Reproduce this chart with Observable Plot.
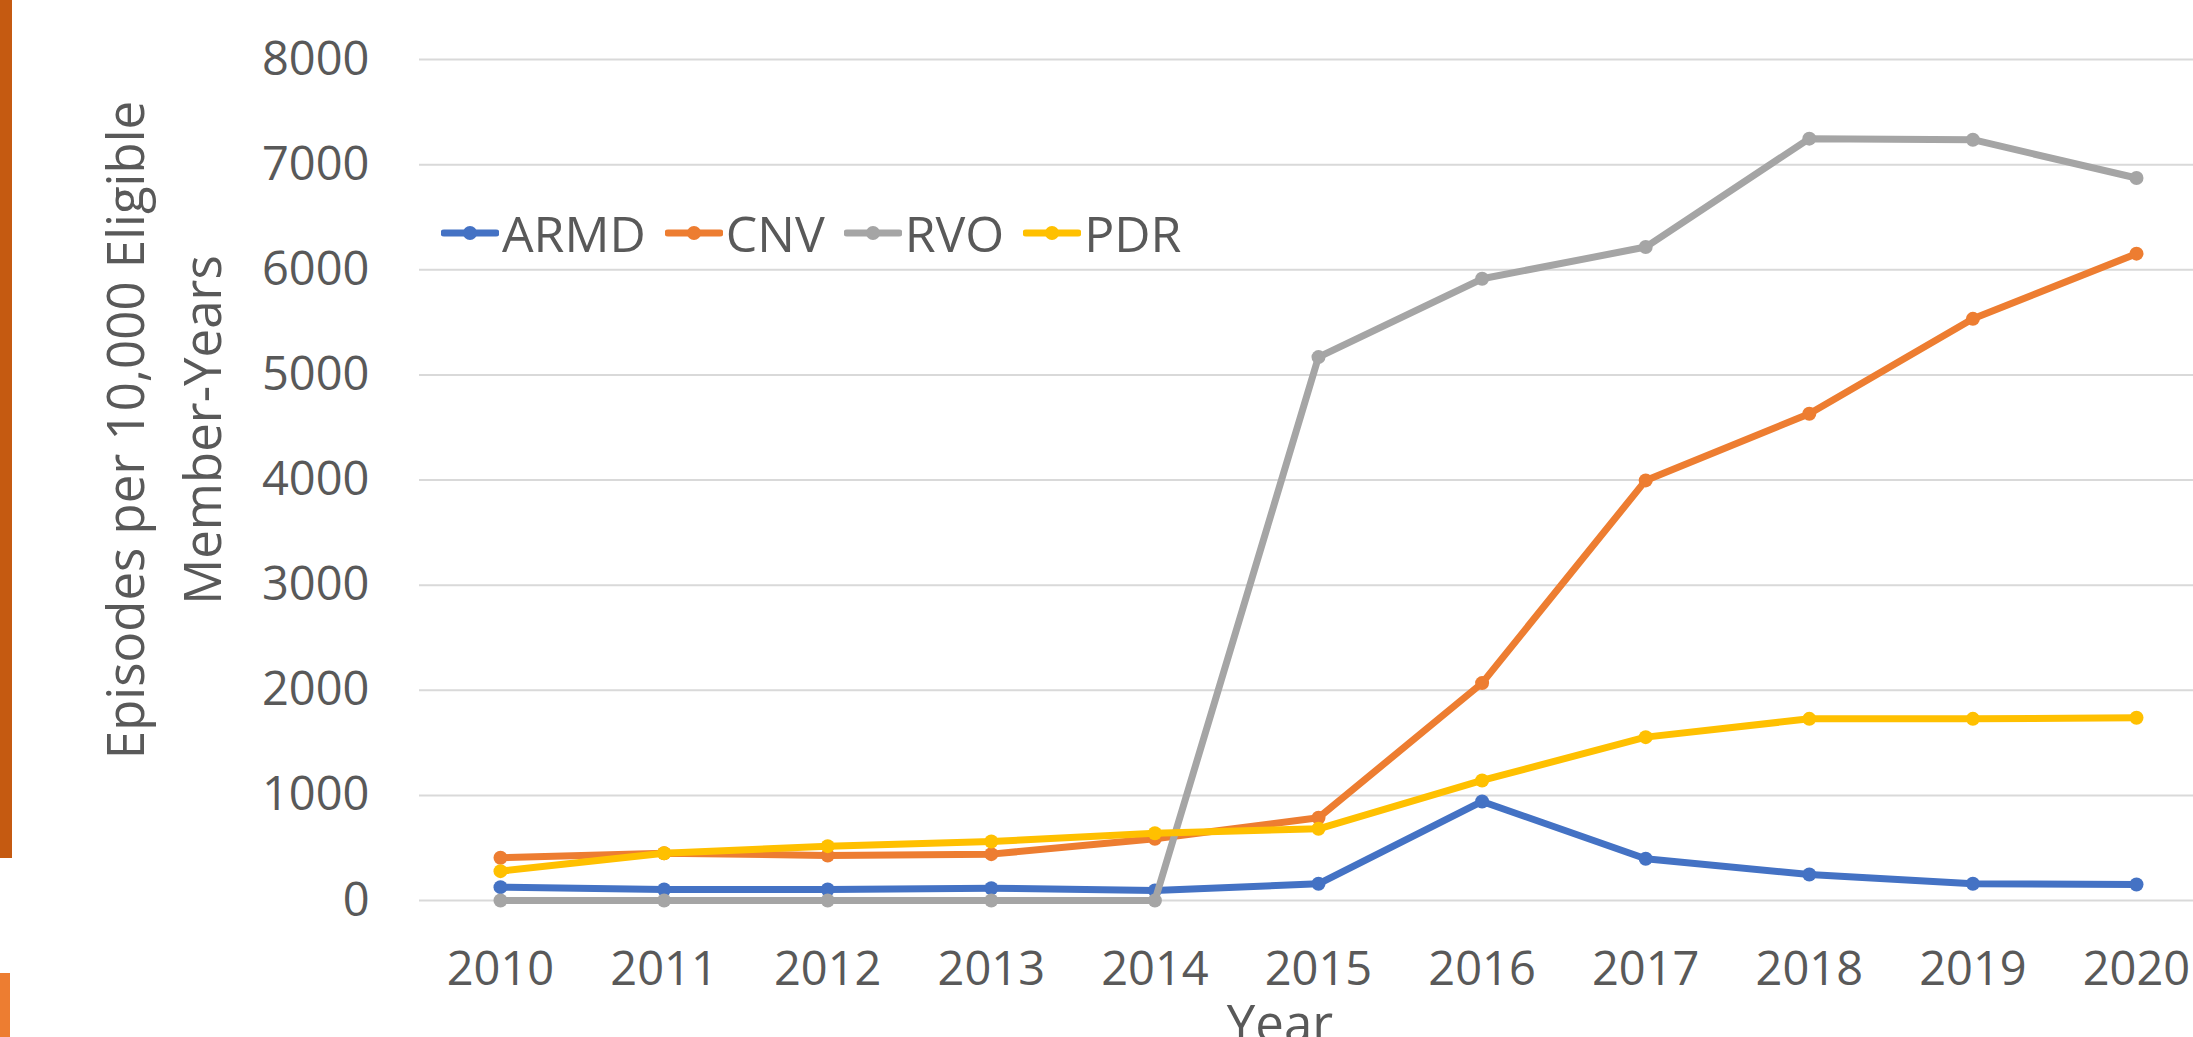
<!DOCTYPE html>
<html>
<head>
<meta charset="utf-8">
<script src="https://cdn.jsdelivr.net/npm/d3@7"></script>
<script src="https://cdn.jsdelivr.net/npm/@observablehq/plot@0.6"></script>
<style>
  html, body { margin: 0; padding: 0; background: #fff; }
  #wrap { position: relative; width: 2193px; height: 1037px; overflow: hidden; font-family: 'Open Sans', sans-serif; color: #595959; }
  #chart { position: absolute; left: 0; top: 0; }
  .bar1 { position: absolute; left: 0; top: 0; width: 12px; height: 858px; background: #C55A11; }
  .bar2 { position: absolute; left: 0; top: 973px; width: 10px; height: 64px; background: #ED7D31; }
  #ytitle { position: absolute; width: 760px; height: 154px; left: calc(163px - 380px); top: calc(430px - 77px);
            transform: rotate(-90deg); transform-origin: 50% 50%; text-align: center; font-size: 51px; line-height: 77px; white-space: nowrap; }
  #xtitle { position: absolute; left: 1180px; width: 200px; top: 997px; text-align: center; font-size: 51px; line-height: 1; }
  #legend { position: absolute; left: 441px; top: 207px; height: 52px; display: flex; align-items: center; gap: 19px; font-size: 50px; line-height: 1; }
  .item { display: flex; align-items: center; }
  .item svg { display: block; margin-right: 3px; }
</style>
</head>
<body>
<div id="wrap">
  <div id="chart"></div>
  <div class="bar1"></div>
  <div class="bar2"></div>
  <div id="ytitle">Episodes per 10,000 Eligible<br>Member-Years</div>
  <div id="xtitle">Year</div>
  <div id="legend"></div>
</div>
<script>
const years = [2010, 2011, 2012, 2013, 2014, 2015, 2016, 2017, 2018, 2019, 2020];
const seriesNames = ["ARMD", "CNV", "RVO", "PDR"];
const armd = [127, 105, 105, 117, 95, 159, 942, 397, 247, 159, 152];
const cnv  = [406, 450, 428, 441, 587, 787, 2068, 3996, 4630, 5533, 6153];
const rvo  = [0, 0, 0, 0, 0, 5169, 5914, 6216, 7247, 7237, 6873];
const pdr  = [279, 450, 517, 561, 640, 682, 1142, 1554, 1728, 1728, 1738];
const yTicks = [0, 1000, 2000, 3000, 4000, 5000, 6000, 7000, 8000];
const colors = ["#4472C4", "#ED7D31", "#A5A5A5", "#FFC000"];

const seriesValues = [armd, cnv, rvo, pdr];
const rows = [];
seriesNames.forEach((s, i) => years.forEach((yr, j) => rows.push({series: s, year: yr, value: seriesValues[i][j]})));

const marks = [
  Plot.ruleY(yTicks, {stroke: "#D9D9D9", strokeWidth: 2}),
  Plot.axisY({ticks: yTicks, tickSize: 0, tickPadding: 50, tickFormat: d => String(d), label: null}),
  Plot.axisX({ticks: years, tickSize: 0, tickPadding: 51.6, tickFormat: d => String(d), label: null})
];
seriesNames.forEach((s, i) => {
  const d = rows.filter(r => r.series === s);
  marks.push(Plot.line(d, {x: "year", y: "value", stroke: colors[i], strokeWidth: 7, strokeLinejoin: "round", strokeLinecap: "round"}));
  marks.push(Plot.dot(d, {x: "year", y: "value", r: 7, fill: colors[i], stroke: "none"}));
});

const chart = Plot.plot({
  width: 2193,
  height: 1037,
  marginLeft: 419,
  marginRight: 0,
  marginTop: 59,
  marginBottom: 137,
  x: {type: "linear", domain: [2009.5, 2020.5], range: [418.2, 2217.8]},
  y: {domain: [0, 8000], range: [900, 59]},
  style: {fontFamily: "'Open Sans', sans-serif", fontSize: "47px", color: "#595959", background: "transparent", overflow: "hidden"},
  marks
});
document.getElementById("chart").appendChild(chart);

const legend = document.getElementById("legend");
seriesNames.forEach((s, i) => {
  const item = document.createElement("div");
  item.className = "item";
  item.innerHTML = `<svg width="58" height="20"><line x1="3" x2="55" y1="10" y2="10" stroke="${colors[i]}" stroke-width="7" stroke-linecap="round"/><circle cx="29" cy="10" r="7" fill="${colors[i]}"/></svg><span>${s}</span>`;
  legend.appendChild(item);
});
</script>
</body>
</html>
